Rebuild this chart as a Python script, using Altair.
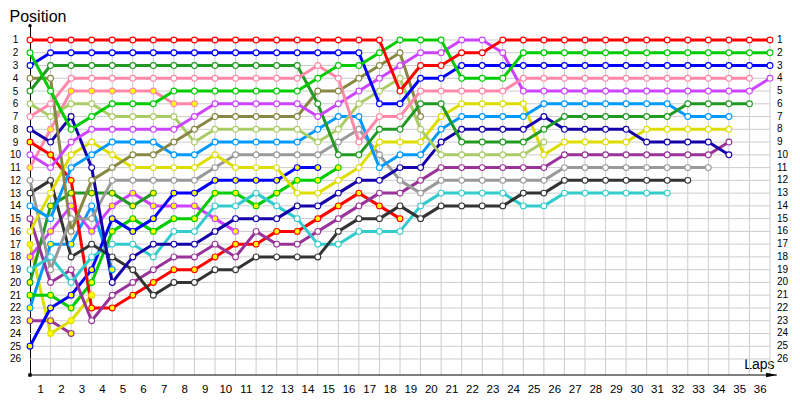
import altair as alt
import pandas as pd

LAP_TICKS = list(range(1, 37))
POSITION_TICKS = list(range(1, 27))

# Position of each car at every lap, starting at lap 0 (the grid)
RED_A = [1,1,1,1,1,1,1,1,1,1,1,1,1,1,1,1,1,1,5,3,3,2,2,1,1,1,1,1,1,1,1,1,1,1,1,1,1]
GREEN_A = [2,5,8,7,6,6,6,5,5,5,5,5,5,5,4,3,3,2,1,1,1,4,4,4,2,2,2,2,2,2,2,2,2,2,2,2,2]
BLUE_A = [3,2,2,2,2,2,2,2,2,2,2,2,2,2,2,2,2,6,6,4,4,3,3,3,3,3,3,3,3,3,3,3,3,3,3,3,3]
PINK_A = [7,6,4,4,4,4,4,4,4,4,4,4,4,4,3,4,9,7,7,5,5,5,5,5,4,4,4,4,4,4,4,4,4,4,4,4]
MAGENTA_A = [10,11,9,8,8,8,8,8,7,6,6,6,6,6,7,6,5,4,3,2,2,1,1,2,5,5,5,5,5,5,5,5,5,5,5,5,4]
DKGREEN_A = [5,3,3,3,3,3,3,3,3,3,3,3,3,3,6,10,10,8,8,6,6,9,9,9,9,8,7,7,7,7,7,7,6,6,6,6]
OLIVE_A = [4,4,16,12,11,10,10,9,8,7,7,7,7,7,5,5,4,3,2,7]
LTGREEN_A = [6,7,6,6,7,7,7,7,9,8,8,8,8,8,9,8,6,5,4,8,10,10,10,10,10,9]
LTBLUE_A = [14,15,11,10,9,9,9,10,10,9,9,9,9,9,8,7,7,11,10,10,8,7,7,7,7,6,6,6,6,6,6,6,7,7,7]
NAVY_A = [8,9,7,11,20,18,17,17,17,16,15,15,15,14,14,13,12,12,11,11,9,8,8,8,8,7,8,8,8,8,9,9,9,9,10]
YELLOW_A = [16,13,10,9,10,11,11,11,11,10,11,11,11,13,13,12,11,9,9,9,7,6,6,6,6,10,9,9,9,9,8,8,8,8,8]
GRAY_A = [12,19,15,15,12,12,12,12,12,11,10,10,10,10,10,9,8,10,12,13,12,12,12,12,12,12,11,11,11,11,11,11,11,11]
BLACK_A = [13,12,18,17,18,19,21,20,20,19,19,18,18,18,18,16,15,15,14,15,14,14,14,14,13,13,12,12,12,12,12,12,12]
CYAN_A = [19,18,20,18,17,17,18,16,16,14,14,13,14,15,17,17,16,16,16,14,13,13,13,13,14,14,13,13,13,13,13,13]
PURPLE_A = [15,20,19,23,21,20,19,18,18,17,18,16,17,17,16,15,14,13,13,12,11,11,11,11,11,11,10,10,10,10,10,10,10,10,9]
RED_B = [9,10,12,22,22,21,20,19,19,18,17,17,16,16,15,14,13,14,15]
PINK_B = [11,8,5,5,5,5,5,6,6]
BLUE_B = [25,22,21,19,15,16,15,13,13,12,12,12,12,11,11]
GREEN_B = [21,21,22,20,16,15,16,15,15,13,13,14,13,12,12,11]
DKGREEN_B = [20,14,13,13,13,14,13]
MAGENTA_B = [18,16,14,16,14,13,14,14,14,15,16]
LTBLUE_B = [22,17,17,14,19]
YELLOW_B = [17,24,23,21]
PURPLE_B = [23,23,24]

WHITE = "#FFFFFF"
YELLOW_FILL = "#FFFF00"

# name, line colour, positions, marker fill, laps whose marker uses the other fill
DRIVERS = [
    ("purple_b", "#993399", PURPLE_B, YELLOW_FILL, []),
    ("yellow_b", "#DDDD00", YELLOW_B, YELLOW_FILL, []),
    ("ltblue_b", "#0099FF", LTBLUE_B, YELLOW_FILL, [3]),
    ("magenta_b", "#CC44FF", MAGENTA_B, YELLOW_FILL, []),
    ("dkgreen_b", "#229922", DKGREEN_B, YELLOW_FILL, []),
    ("green_b", "#00CC00", GREEN_B, YELLOW_FILL, []),
    ("blue_b", "#0000FF", BLUE_B, YELLOW_FILL, []),
    ("pink_b", "#FF88AA", PINK_B, YELLOW_FILL, []),
    ("red_b", "#FF0000", RED_B, YELLOW_FILL, []),
    ("purple_a", "#993399", PURPLE_A, WHITE, []),
    ("cyan_a", "#33CCCC", CYAN_A, WHITE, []),
    ("black_a", "#333333", BLACK_A, WHITE, []),
    ("gray_a", "#999999", GRAY_A, WHITE, []),
    ("yellow_a", "#DDDD00", YELLOW_A, WHITE, []),
    ("navy_a", "#1500AA", NAVY_A, WHITE, []),
    ("ltblue_a", "#0099FF", LTBLUE_A, WHITE, []),
    ("ltgreen_a", "#AACC66", LTGREEN_A, WHITE, []),
    ("olive_a", "#888844", OLIVE_A, WHITE, []),
    ("dkgreen_a", "#229922", DKGREEN_A, WHITE, []),
    ("magenta_a", "#CC44FF", MAGENTA_A, WHITE, []),
    ("pink_a", "#FF88AA", PINK_A, WHITE, []),
    ("blue_a", "#0000FF", BLUE_A, WHITE, []),
    ("green_a", "#00CC00", GREEN_A, WHITE, []),
    ("red_a", "#FF0000", RED_A, WHITE, []),
]

rows = []
for order, (name, color, positions, fill, other) in enumerate(DRIVERS):
    for lap, pos in enumerate(positions):
        f = fill
        if lap in other:
            f = WHITE if fill == YELLOW_FILL else YELLOW_FILL
        rows.append({"driver": name, "order": order, "lap": lap, "pos": pos,
                     "color": color, "fill": f})
df = pd.DataFrame(rows)

Y_TOP, Y_BOTTOM = -0.1755, 27.254
X_MAX = 36
FONT = "Liberation Sans"

xs = alt.Scale(domain=[0, X_MAX], nice=False, zero=False)
ys = alt.Scale(domain=[Y_TOP, Y_BOTTOM], reverse=True, nice=False, zero=False)

Y_AXIS = alt.Axis(
    values=POSITION_TICKS, ticks=False, grid=False, domain=True,
    domainColor="#000000", domainWidth=1, labelAlign="center",
    labelBaseline="middle", labelPadding=15, labelFont=FONT,
    labelFontSize=10, labelColor="#000000", labelFlush=False,
    labelOverlap=False, title="Position", titleAngle=0, titleX=-21,
    titleY=-4, titleAlign="left", titleBaseline="alphabetic",
    titleFont=FONT, titleFontSize=16, titleFontWeight="normal",
    titleColor="#000000")

X_AXIS = alt.Axis(
    values=LAP_TICKS, ticks=False, grid=False, domain=False,
    labelOffset=-10.28, labelPadding=8, labelFont=FONT, labelFontSize=11.5,
    labelColor="#000000", labelFlush=False, labelOverlap=False,
    labelBound=False, title="Laps", titleX=744, titleY=-7,
    titleAlign="right", titleBaseline="alphabetic", titleFont=FONT,
    titleFontSize=14, titleFontWeight="normal", titleColor="#000000")


def X(field):
    return alt.X(field, scale=xs, axis=X_AXIS, title="Laps")


def Y(field):
    return alt.Y(field, scale=ys, axis=Y_AXIS, title="Position")


hgrid_df = pd.DataFrame({"pos": POSITION_TICKS, "x0": 0, "x1": X_MAX})
vgrid_df = pd.DataFrame({"lap": LAP_TICKS, "y0": 1, "y1": Y_BOTTOM})

hgrid = alt.Chart(hgrid_df).mark_rule(color="#CCCCCC", strokeWidth=1).encode(
    y=Y("pos:Q"), x=X("x0:Q"), x2="x1:Q")

vgrid = alt.Chart(vgrid_df).mark_rule(color="#CCCCCC", strokeWidth=1).encode(
    x=X("lap:Q"), y=Y("y0:Q"), y2="y1:Q")

xaxis_df = pd.DataFrame({"x0": [0], "x1": [36.33], "y": [Y_BOTTOM]})
xaxis_line = alt.Chart(xaxis_df).mark_rule(color="#000000", strokeWidth=1).encode(
    x=X("x0:Q"), x2="x1:Q", y=Y("y:Q"))

arrow_df = pd.DataFrame({"lap": [36.08], "pos": [Y_BOTTOM]})
arrow = alt.Chart(arrow_df).mark_point(
    shape="M-1,-0.42L1,0L-1,0.42Z", size=121, filled=True, color="#000000",
    opacity=1).encode(x=X("lap:Q"), y=Y("pos:Q"))

ends_df = pd.DataFrame({"lap": [0, 0], "pos": [Y_TOP + 0.05, Y_BOTTOM],
                        "shape": ["circle", "square"]})
ends = alt.Chart(ends_df).mark_point(size=12, filled=True, color="#000000",
                                     opacity=1).encode(
    x=X("lap:Q"), y=Y("pos:Q"), shape=alt.Shape("shape:N", scale=None))

lines = alt.Chart(df).mark_line(strokeWidth=3, strokeJoin="round").encode(
    x=X("lap:Q"), y=Y("pos:Q"),
    detail="driver:N",
    color=alt.Color("color:N", scale=None),
    order="lap:Q",
)

points = alt.Chart(df).mark_point(shape="circle", size=34, strokeWidth=1.1,
                                  opacity=1, fillOpacity=1).encode(
    x=X("lap:Q"), y=Y("pos:Q"),
    fill=alt.Fill("fill:N", scale=None),
    stroke=alt.Stroke("color:N", scale=None),
    order="order:Q",
)

right_df = pd.DataFrame({"pos": POSITION_TICKS, "lap": X_MAX})
right_labels = alt.Chart(right_df).mark_text(
    align="left", baseline="middle", dx=7, font=FONT, fontSize=10,
    color="#000000").encode(x=X("lap:Q"), y=Y("pos:Q"), text="pos:Q")

chart = alt.layer(vgrid, hgrid, xaxis_line, ends, arrow, lines, points,
                  right_labels).properties(
    width=740, height=350,
    padding={"left": 22, "top": 17, "right": 22, "bottom": 19},
    autosize=alt.AutoSizeParams(type="none"),
    background="#FFFFFF",
).configure_view(stroke="transparent")

chart.save("out.html", embed_options={"renderer": "svg", "actions": False})
